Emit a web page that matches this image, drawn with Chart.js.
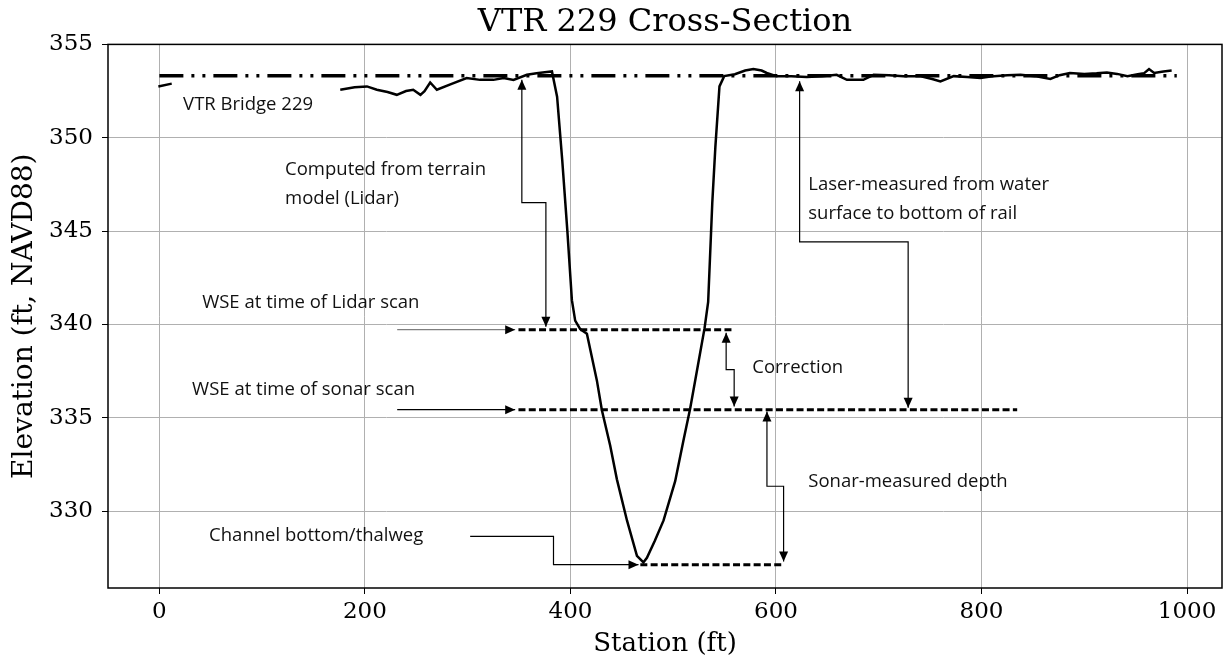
<!DOCTYPE html>
<html>
<head>
<meta charset="utf-8">
<title>VTR 229 Cross-Section</title>
<script src="https://cdn.jsdelivr.net/npm/chart.js@4/dist/chart.umd.min.js"></script>
<style>
  html, body { margin: 0; padding: 0; background: #fff; }
  #wrap { width: 1231px; height: 660px; }
</style>
</head>
<body>
<div id="wrap"><canvas id="chart-xsec"></canvas></div>
<script>
// ground profile (station ft, elevation ft NAVD88); null = gap in survey
const terrainStation = [-1, 12, null, 176, 190, 202, 211.6, 222, 231, 240, 247, 254, 258, 263.5, 270, 285, 299, 312, 325, 335, 344.6,
    357.6, 367, 377, 382, 387, 392, 397, 401.4, 404.6, 409.5, 416, 425.7, 430.6, 438.7, 445.2, 455, 464.7, 471,
    474.4, 482, 490.6, 501.9, 510, 516.5, 524, 530.5, 534, 538, 541, 545, 549.6, 560, 570, 578, 586, 591, 601,
    615, 630, 645, 659, 669, 685, 695, 710, 724, 740, 752, 760, 773, 786, 799, 812, 825, 838, 852, 867, 876,
    886, 900, 912, 922, 932, 942, 952, 958, 963, 968, 977, 985];
const terrainElev = [352.75, 352.9, null, 352.57, 352.7, 352.75, 352.57, 352.45, 352.3, 352.5, 352.57, 352.3, 352.5, 352.96, 352.57, 352.9, 353.2, 353.1, 353.1, 353.2, 353.1,
    353.37, 353.45, 353.52, 353.55, 352.2, 348.8, 345.0, 341.3, 340.2, 339.75, 339.5, 337.0, 335.4, 333.5, 331.7, 329.5, 327.6, 327.25,
    327.5, 328.4, 329.5, 331.6, 333.8, 335.5, 337.8, 339.8, 341.2, 346.5, 349.5, 352.75, 353.3, 353.4, 353.6, 353.68, 353.6, 353.47, 353.29,
    353.3, 353.25, 353.3, 353.37, 353.1, 353.1, 353.37, 353.35, 353.3, 353.3, 353.15, 353.02, 353.3, 353.25, 353.2, 353.3, 353.35, 353.37, 353.3, 353.15, 353.35,
    353.47, 353.42, 353.45, 353.5, 353.42, 353.3, 353.4, 353.45, 353.68, 353.47, 353.55, 353.6];

// bottom of rail, water surfaces and thalweg
const bridgeStation = [0, 990];
const bridgeElev = [353.32, 353.32];
const lidarWseStation = [349.4, 558.3];
const lidarWseElev = [339.72, 339.72];
const sonarWseStation = [349.4, 834.7];
const sonarWseElev = [335.43, 335.43];
const thalwegStation = [468, 607];
const thalwegElev = [327.13, 327.13];

const xTicks = [0, 200, 400, 600, 800, 1000];
const yTicks = [330, 335, 340, 345, 350, 355];

// callout text (station, elevation of first line)
const callouts = [
    { lines: ['VTR Bridge 229'], x: 23.1, y: 351.77 },
    { lines: ['Computed from terrain', 'model (Lidar)'], x: 122.3, y: 348.29 },
    { lines: ['Laser-measured from water', 'surface to bottom of rail'], x: 631.4, y: 347.49 },
    { lines: ['WSE at time of Lidar scan'], x: 41.6, y: 341.17 },
    { lines: ['WSE at time of sonar scan'], x: 31.8, y: 336.5 },
    { lines: ['Correction'], x: 576.9, y: 337.68 },
    { lines: ['Sonar-measured depth'], x: 631.4, y: 331.58 },
    { lines: ['Channel bottom/thalweg'], x: 48.4, y: 328.68 }
];

// leader arrows: points as [station, elevation]
const leaders = [
    { pts: [[352.7, 353.11], [352.7, 346.52], [376.1, 346.52], [376.1, 339.88]], start: true, end: true },
    { pts: [[623, 353.02], [623, 344.42], [728.6, 344.42], [728.6, 335.54]], start: true, end: true },
    { pts: [[231.4, 339.72], [346.2, 339.72]], start: false, end: true, color: '#7f7f7f' },
    { pts: [[231.4, 335.43], [346.2, 335.43]], start: false, end: true },
    { pts: [[551.5, 339.56], [551.5, 337.58], [559.3, 337.58], [559.3, 335.6]], start: true, end: true },
    { pts: [[591.2, 335.33], [591.2, 331.33], [607.4, 331.33], [607.4, 327.3]], start: true, end: true },
    { pts: [[302.4, 328.65], [383.5, 328.65], [383.5, 327.13], [466.2, 327.13]], start: false, end: true }
];

function toPoints(xs, ys) {
    return xs.map((x, i) => (x === null ? { x: null, y: null } : { x: x, y: ys[i] }));
}

function drawHead(ctx, from, to) {
    const ang = Math.atan2(to[1] - from[1], to[0] - from[0]);
    const len = 10, half = 4.5;
    ctx.beginPath();
    ctx.moveTo(to[0], to[1]);
    ctx.lineTo(to[0] - len * Math.cos(ang) + half * Math.sin(ang), to[1] - len * Math.sin(ang) - half * Math.cos(ang));
    ctx.lineTo(to[0] - len * Math.cos(ang) - half * Math.sin(ang), to[1] - len * Math.sin(ang) + half * Math.cos(ang));
    ctx.closePath();
    ctx.fill();
}

const annotatePlugin = {
    id: 'annotate',
    afterDatasetsDraw(chart) {
        const { ctx, scales } = chart;
        const px = v => scales.x.getPixelForValue(v);
        const py = v => scales.y.getPixelForValue(v);
        ctx.save();
        leaders.forEach(l => {
            const p = l.pts.map(q => [px(q[0]), py(q[1])]);
            ctx.strokeStyle = l.color || '#000';
            ctx.fillStyle = '#000';
            ctx.lineWidth = 1.2;
            ctx.beginPath();
            p.forEach((q, i) => (i ? ctx.lineTo(q[0], q[1]) : ctx.moveTo(q[0], q[1])));
            ctx.stroke();
            if (l.end) drawHead(ctx, p[p.length - 2], p[p.length - 1]);
            if (l.start) drawHead(ctx, p[1], p[0]);
        });
        ctx.fillStyle = '#111';
        ctx.font = '18.5px "Open Sans"';
        ctx.textBaseline = 'middle';
        ctx.textAlign = 'left';
        callouts.forEach(c => {
            c.lines.forEach((t, i) => ctx.fillText(t, px(c.x), py(c.y) + i * 29));
        });
        ctx.restore();
    },
    afterDraw(chart) {
        const a = chart.chartArea;
        const ctx = chart.ctx;
        ctx.save();
        ctx.strokeStyle = '#000';
        ctx.lineWidth = 1.5;
        ctx.strokeRect(a.left, a.top, a.right - a.left, a.bottom - a.top);
        ctx.restore();
    }
};

const serif = 'DejaVu Serif';

new Chart(document.getElementById('chart-xsec'), {
    type: 'scatter',
    data: {
        datasets: [
            {
                label: 'Bridge',
                data: toPoints(bridgeStation, bridgeElev),
                showLine: true,
                borderColor: '#000',
                borderWidth: 3.5,
                borderDash: [24, 8, 3, 8, 3, 8],
                pointRadius: 0
            },
            {
                label: 'Terrain',
                data: toPoints(terrainStation, terrainElev),
                showLine: true,
                spanGaps: false,
                borderColor: '#000',
                borderWidth: 2.5,
                pointRadius: 0,
                tension: 0
            },
            {
                label: 'WSE Lidar',
                data: toPoints(lidarWseStation, lidarWseElev),
                showLine: true,
                borderColor: '#000',
                borderWidth: 3,
                borderDash: [7, 3.3],
                pointRadius: 0
            },
            {
                label: 'WSE Sonar',
                data: toPoints(sonarWseStation, sonarWseElev),
                showLine: true,
                borderColor: '#000',
                borderWidth: 3,
                borderDash: [7, 3.3],
                pointRadius: 0
            },
            {
                label: 'Thalweg',
                data: toPoints(thalwegStation, thalwegElev),
                showLine: true,
                borderColor: '#000',
                borderWidth: 3,
                borderDash: [7, 3.3],
                pointRadius: 0
            }
        ]
    },
    options: {
        responsive: true,
        maintainAspectRatio: false,
        animation: false,
        layout: { padding: { left: 0, right: 9, top: 0, bottom: 0 } },
        plugins: {
            legend: { display: false },
            tooltip: { enabled: false },
            title: {
                display: true,
                fullSize: false,
                text: 'VTR 229 Cross-Section',
                color: '#000',
                font: { family: serif, size: 32, weight: 'normal', lineHeight: 1.2 },
                padding: { top: 3, bottom: 3 }
            }
        },
        scales: {
            x: {
                type: 'linear',
                min: -50,
                max: 1034,
                afterBuildTicks: s => { s.ticks = xTicks.map(v => ({ value: v })); },
                afterFit: s => { s.height = 72; },
                grid: { color: '#b0b0b0', lineWidth: 1, tickColor: '#000', tickLength: 6 },
                border: { display: false },
                ticks: { color: '#000', font: { family: serif, size: 23 }, padding: 4, maxRotation: 0, callback: v => String(v) },
                title: { display: true, text: 'Station (ft)', color: '#000', font: { family: serif, size: 26 }, padding: { top: 0, bottom: 0 } }
            },
            y: {
                type: 'linear',
                min: 325.88,
                max: 355,
                afterBuildTicks: s => { s.ticks = yTicks.map(v => ({ value: v })); },
                afterFit: s => { s.width = 108; },
                grid: { color: '#b0b0b0', lineWidth: 1, tickColor: '#000', tickLength: 6 },
                border: { display: false },
                ticks: { color: '#000', font: { family: serif, size: 23 }, padding: 9, callback: v => String(v) },
                title: { display: true, text: 'Elevation (ft, NAVD88)', color: '#000', font: { family: serif, size: 28 }, padding: { top: 8, bottom: 2 } }
            }
        }
    },
    plugins: [annotatePlugin]
});
</script>
</body>
</html>
